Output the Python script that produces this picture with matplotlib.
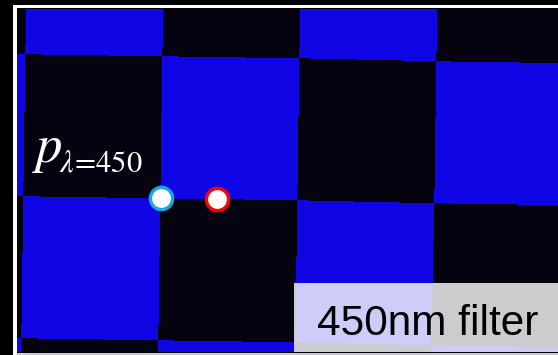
import numpy as np
import matplotlib
matplotlib.use("Agg")
import matplotlib.pyplot as plt
from matplotlib.colors import ListedColormap
from matplotlib.patches import Rectangle

plt.rcParams['mathtext.fontset'] = 'stix'

# checkerboard cells seen through the filter (1 = blue, 0 = dark)
checker = [
    [0, 1, 0, 1, 0],
    [1, 0, 1, 0, 1],
    [0, 1, 0, 1, 0],
    [1, 0, 1, 0, 1],
]
row_ids = [-2, -1, 0, 1, 2]
col_ids = [-2, -1, 0, 1, 2, 3]

# sample points (pixel positions in the photo)
point_x = [161, 217]
point_y = [198, 199]
point_edges = ['#1AA6E0', '#FF0000']

label_p = r'$p$'
label_sub = r'$\lambda\!=\!450$'
filter_label = '450nm filter'

W, H = 558, 355
fig = plt.figure(figsize=(W / 100, H / 100), dpi=100, facecolor='black')

# frame around the photo
bg = fig.add_axes([0, 0, 1, 1])
bg.set_xlim(0, W)
bg.set_ylim(H, 0)
bg.axis('off')
bg.add_patch(Rectangle((13, 5), 3.5, H - 5, color='white', lw=0))
bg.add_patch(Rectangle((13, 5), W - 13, 2.5, color='white', lw=0))
bg.add_patch(Rectangle((17, 352.5), W - 17, 3, color='#c9c6e6', lw=0))

# photo area
ax = fig.add_axes([17 / W, 1 - 352 / H, (W - 17) / W, (352 - 9) / H])
ax.set_xlim(17, W)
ax.set_ylim(352, 9)
ax.axis('off')

x0, y0 = 161, 199
pitch_x, pitch_y = 137, 142
ang = np.deg2rad(1.0)
J, I = np.meshgrid(col_ids, row_ids)
X = x0 + J * pitch_x * np.cos(ang) - I * pitch_y * np.sin(ang)
Y = y0 + J * pitch_x * np.sin(ang) + I * pitch_y * np.cos(ang)
cmap = ListedColormap(['#04030F', '#1005E4'])
ax.pcolormesh(X, Y, np.array(checker), cmap=cmap, vmin=0, vmax=1,
              shading='flat', edgecolors='face', linewidth=0.3)

for px, py, ec in zip(point_x, point_y, point_edges):
    ax.plot(px, py, 'o', ms=16, mfc='white', mec=ec, mew=2.5, zorder=5)

ax.text(32, 162, label_p, color='white', fontsize=38, va='baseline', ha='left')
ax.text(59, 172, label_sub, color='white', fontsize=22, va='baseline', ha='left')

ax.add_patch(Rectangle((294, 283), W - 294, 72, facecolor='white', alpha=0.8,
                       lw=0, zorder=6))
ax.text(317, 335, filter_label, color='black', fontsize=30.5,
        family='Liberation Sans', va='baseline', ha='left', zorder=7)

fig.savefig('out.png', dpi=100, facecolor=fig.get_facecolor())
